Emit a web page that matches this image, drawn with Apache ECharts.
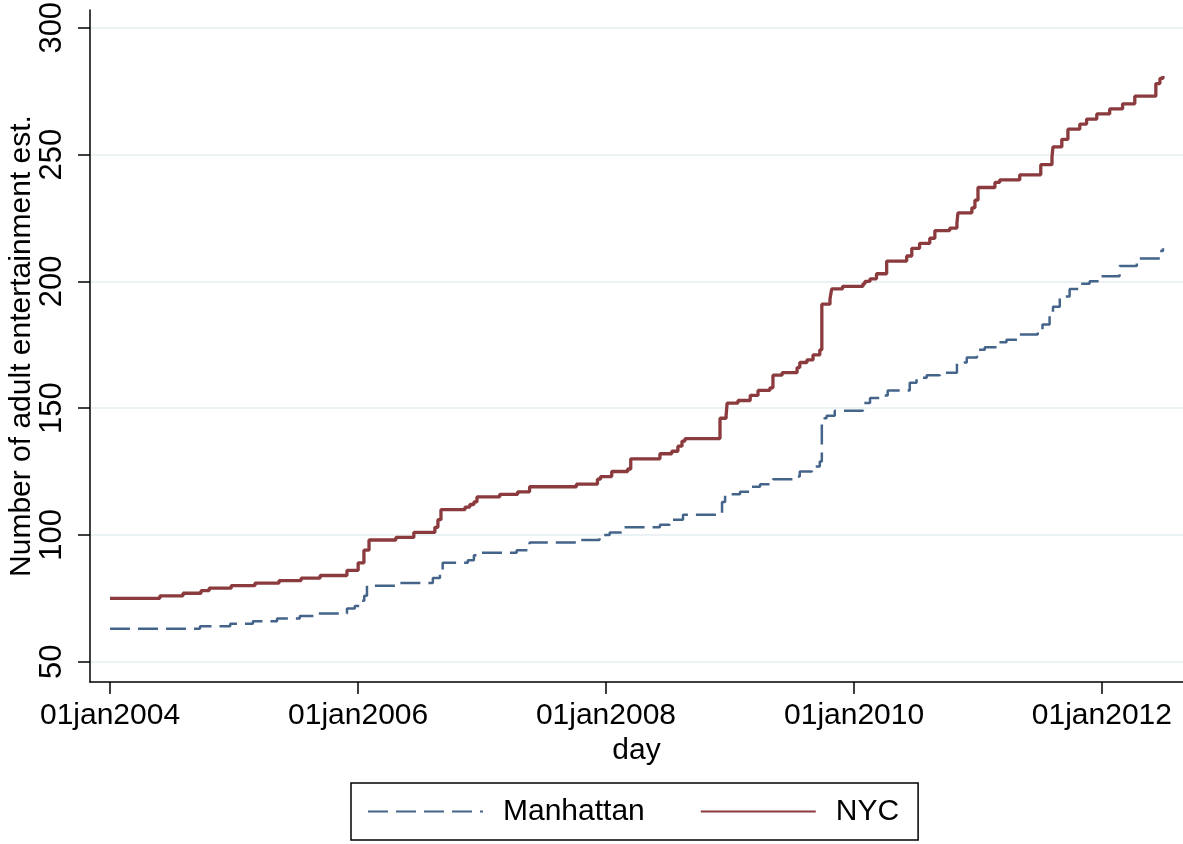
<!DOCTYPE html>
<html>
<head>
<meta charset="utf-8">
<script src="https://cdn.jsdelivr.net/npm/echarts@6/dist/echarts.min.js"></script>
<style>
  html, body { margin: 0; padding: 0; background: #fff; }
  #chart { width: 1183px; height: 844px; }
</style>
</head>
<body>
<div id="chart"></div>
<script>
// NYC cumulative count: date of each step, value after the step
const nycDates = [
  '2004-01-01','2004-05-27','2004-08-03','2004-09-25','2004-10-19','2004-12-23',
  '2005-03-03','2005-05-13','2005-07-17','2005-09-11','2005-11-29',
  '2006-01-01','2006-01-18','2006-02-02','2006-04-22','2006-06-14','2006-08-15','2006-08-24','2006-09-02',
  '2006-11-12','2006-11-26','2006-12-08','2006-12-17',
  '2007-02-22','2007-04-16','2007-05-21','2007-10-06','2007-12-07','2007-12-16',
  '2008-01-18','2008-03-05','2008-03-14','2008-06-08','2008-07-13','2008-07-31','2008-08-12','2008-08-21',
  '2008-12-02','2008-12-20','2008-12-23',
  '2009-01-24','2009-03-01','2009-03-24','2009-04-28','2009-05-07','2009-06-03','2009-07-17','2009-07-25',
  '2009-08-15','2009-09-02','2009-09-22','2009-09-28','2009-10-22','2009-10-27','2009-11-28',
  '2010-01-27','2010-02-02','2010-02-17','2010-03-08','2010-04-07','2010-06-05','2010-06-20','2010-07-13',
  '2010-08-12','2010-08-27','2010-10-10','2010-10-31','2010-11-03','2010-12-14','2010-12-23',
  '2011-01-01','2011-02-20','2011-03-06','2011-05-04','2011-07-05','2011-08-07','2011-08-10','2011-09-05',
  '2011-09-23','2011-10-28','2011-11-17','2011-12-17',
  '2012-01-24','2012-03-02','2012-04-07','2012-06-08','2012-06-20','2012-06-29','2012-06-30'
];
const nycValues = [
  75, 76, 77, 78, 79, 80,
  81, 82, 83, 84, 86,
  89, 94, 98, 99, 101, 103, 106, 110,
  111, 112, 113, 115,
  116, 117, 119, 120, 122, 123,
  125, 126, 130, 132, 133, 135, 137, 138,
  146, 147, 152,
  153, 155, 157, 158, 163, 164, 166, 168,
  169, 171, 173, 191, 193, 197, 198,
  199, 200, 201, 203, 208, 210, 213, 215,
  217, 220, 221, 223, 227, 229, 232,
  237, 239, 240, 242, 246, 249, 253, 256,
  260, 262, 264, 266,
  268, 270, 273, 278, 280, 281, 281
];

// Manhattan cumulative count
const manDates = [
  '2004-01-01','2004-09-22','2004-12-20',
  '2005-02-25','2005-05-07','2005-07-13','2005-09-04','2005-11-29','2005-12-22',
  '2006-01-07','2006-01-19','2006-01-27','2006-05-04','2006-08-09','2006-08-30','2006-09-07',
  '2006-11-20','2006-12-08','2006-12-17',
  '2007-04-13','2007-05-21','2007-10-06','2007-12-13',
  '2008-01-12','2008-02-17','2008-06-08','2008-07-07','2008-08-15','2008-12-08','2008-12-17',
  '2009-01-30','2009-03-01','2009-03-30','2009-05-07','2009-07-05','2009-07-25','2009-08-30',
  '2009-09-22','2009-09-28','2009-10-12','2009-11-05',
  '2010-01-27','2010-02-17','2010-03-18','2010-04-10','2010-06-14','2010-07-04','2010-08-03',
  '2010-09-11','2010-10-31','2010-11-29','2010-12-29',
  '2011-01-21','2011-02-25','2011-03-26','2011-05-04','2011-06-26','2011-07-10','2011-07-31',
  '2011-08-10','2011-08-30','2011-09-28','2011-10-28','2011-11-26','2011-12-25',
  '2012-02-22','2012-04-13','2012-06-20','2012-06-29','2012-06-30'
];
const manValues = [
  63, 64, 65,
  66, 67, 68, 69, 71, 72,
  74, 76, 80, 81, 83, 86, 89,
  90, 92, 93,
  94, 97, 98, 100,
  101, 103, 104, 106, 108, 113, 116,
  117, 119, 120, 122, 123, 125, 127,
  129, 146, 147, 149,
  152, 154, 155, 157, 160, 162, 163,
  164, 168, 170, 173,
  174, 176, 177, 179, 180, 183, 187,
  190, 194, 197, 199, 200, 202,
  206, 209, 212, 213, 213
];

const yTicks = [50, 100, 150, 200, 250, 300];
const xTickLabels = ['01jan2004', '01jan2006', '01jan2008', '01jan2010', '01jan2012'];

// dates are handled as day timestamps on a value axis
const toTime = s => {
  const [y, m, d] = s.split('-').map(Number);
  return Date.UTC(y, m - 1, d);
};
const toPairs = (dates, values) => dates.map((d, i) => [toTime(d), values[i]]);
const xTicks = ['2004-01-01', '2006-01-01', '2008-01-01', '2010-01-01', '2012-01-01'].map(toTime);

const chart = echarts.init(document.getElementById('chart'));
const font = '"Liberation Sans", Arial, sans-serif';

chart.setOption({
  backgroundColor: '#fff',
  animation: false,
  textStyle: { fontFamily: font, color: '#000' },
  grid: { left: 90, right: 0, top: 10, bottom: 162, outerBoundsMode: 'none' },
  legend: {
    data: ['Manhattan', 'NYC'],
    left: 351,
    top: 783,
    orient: 'horizontal',
    itemWidth: 115,
    itemHeight: 14,
    itemGap: 55,
    padding: [10, 19, 10, 16],
    borderColor: '#000',
    borderWidth: 1.5,
    borderRadius: 0,
    itemStyle: { opacity: 0 },
    textStyle: { fontSize: 30, fontFamily: font, color: '#000', padding: [0, 0, 0, 15], lineHeight: 37 }
  },
  xAxis: {
    type: 'value',
    min: toTime('2003-11-03'),
    max: toTime('2012-08-27'),
    name: 'day',
    nameLocation: 'middle',
    nameGap: 54,
    nameMoveOverlap: false,
    nameTextStyle: { fontSize: 30, fontFamily: font, color: '#000', verticalAlign: 'top' },
    axisLine: { onZero: false, lineStyle: { color: '#000', width: 1.5 } },
    axisTick: { show: true, length: 12, lineStyle: { color: '#000', width: 1.5 }, customValues: xTicks },
    axisLabel: {
      customValues: xTicks,
      fontSize: 30,
      color: '#000',
      fontFamily: font,
      margin: 19,
      formatter: v => xTickLabels[xTicks.indexOf(v)]
    },
    splitLine: { show: false }
  },
  yAxis: {
    type: 'value',
    min: 42,
    max: 307,
    name: 'Number of adult entertainment est.',
    nameLocation: 'middle',
    nameGap: 53,
    nameMoveOverlap: false,
    nameTextStyle: { fontSize: 30, fontFamily: font, color: '#000' },
    axisLine: { show: true, lineStyle: { color: '#000', width: 1.5 } },
    axisTick: { show: true, length: 12, lineStyle: { color: '#000', width: 1.5 }, customValues: yTicks },
    axisLabel: { customValues: yTicks, rotate: 90, fontSize: 31, color: '#000', fontFamily: font, margin: 22 },
    splitLine: { show: true, lineStyle: { color: '#eaf2f3', width: 2 } }
  },
  series: [
    {
      name: 'Manhattan',
      type: 'line',
      step: 'end',
      symbol: 'none',
      data: toPairs(manDates, manValues),
      color: '#44648a',
      lineStyle: { color: '#44648a', width: 2.5, type: [20, 8] }
    },
    {
      name: 'NYC',
      type: 'line',
      step: 'end',
      symbol: 'none',
      data: toPairs(nycDates, nycValues),
      color: '#8b3a3d',
      lineStyle: { color: '#8b3a3d', width: 3.3 }
    }
  ]
});
</script>
</body>
</html>
